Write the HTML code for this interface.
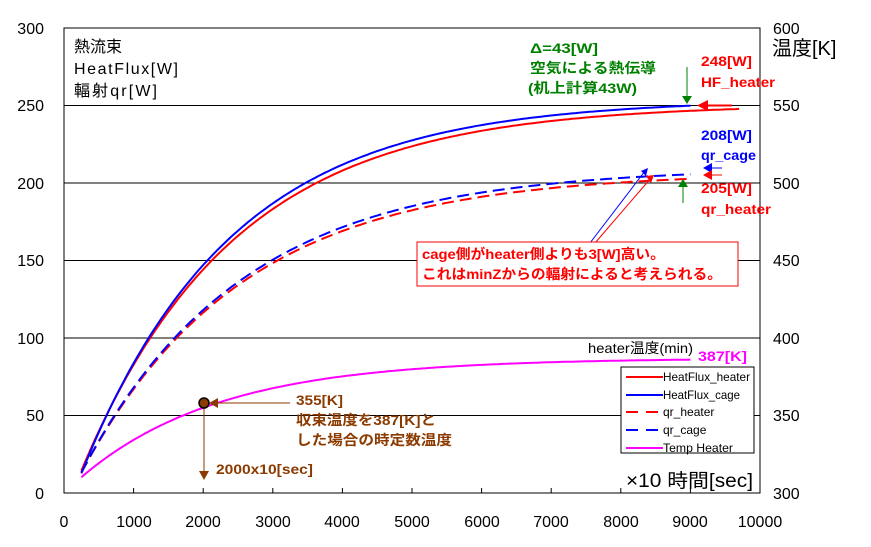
<!DOCTYPE html>
<html><head><meta charset="utf-8"><style>
body{margin:0;background:#fff;width:871px;height:547px;overflow:hidden}
svg{display:block;font-family:"Liberation Sans","Noto Sans CJK JP",sans-serif}
</style></head><body>
<svg id="s" width="871" height="547" xmlns="http://www.w3.org/2000/svg">
<rect x="64" y="28" width="696" height="465" fill="#fff" stroke="#000" stroke-width="1"/>
<g stroke="#000" stroke-width="1">
<line x1="64" y1="105.5" x2="760" y2="105.5"/>
<line x1="64" y1="183" x2="760" y2="183"/>
<line x1="64" y1="260.5" x2="760" y2="260.5"/>
<line x1="64" y1="338" x2="760" y2="338"/>
<line x1="64" y1="415.5" x2="760" y2="415.5"/>
</g>
<g id="ticks" stroke="#000"></g>
<g font-size="16" fill="#000" text-anchor="end">
<text x="44" y="34">300</text><text x="44" y="111">250</text><text x="44" y="189">200</text>
<text x="44" y="266">150</text><text x="44" y="344">100</text><text x="44" y="421">50</text><text x="44" y="499">0</text>
</g>
<g font-size="16" fill="#000">
<text x="773" y="34">600</text><text x="773" y="111">550</text><text x="773" y="189">500</text>
<text x="773" y="266">450</text><text x="773" y="344">400</text><text x="773" y="421">350</text><text x="773" y="499">300</text>
</g>
<g font-size="16" fill="#000" text-anchor="middle">
<text x="64" y="527">0</text><text x="134" y="527">1000</text><text x="203" y="527">2000</text><text x="273" y="527">3000</text>
<text x="342" y="527">4000</text><text x="412" y="527">5000</text><text x="482" y="527">6000</text><text x="551" y="527">7000</text>
<text x="621" y="527">8000</text><text x="690" y="527">9000</text><text x="760" y="527">10000</text>
</g>
<rect x="768" y="36" width="70" height="24" fill="#fff"/>
<text x="772" y="55" font-size="20">温度[K]</text>
<g font-size="16" fill="#000" lengthAdjust="spacingAndGlyphs">
<text x="74" y="52" textLength="48">熱流束</text><text x="74" y="74" textLength="104">HeatFlux[W]</text><text x="74" y="96" textLength="83">輻射qr[W]</text>
</g>
<g id="curves" fill="none" stroke-width="2"></g>
<g font-size="14" font-weight="bold" fill="#008000">
<text x="530" y="53" textLength="68" lengthAdjust="spacingAndGlyphs">Δ=43[W]</text>
<text x="530" y="73" textLength="126" lengthAdjust="spacingAndGlyphs">空気による熱伝導</text>
<text x="528" y="93" textLength="109" lengthAdjust="spacingAndGlyphs">(机上計算43W)</text>
</g>
<g font-size="14" font-weight="bold" fill="#f00">
<text x="701" y="66" textLength="51" lengthAdjust="spacingAndGlyphs">248[W]</text><text x="701" y="87" textLength="74" lengthAdjust="spacingAndGlyphs">HF_heater</text>
<text x="701" y="193" textLength="51" lengthAdjust="spacingAndGlyphs">205[W]</text><text x="701" y="214" textLength="70" lengthAdjust="spacingAndGlyphs">qr_heater</text>
</g>
<g font-size="14" font-weight="bold" fill="#00f">
<text x="701" y="140" textLength="51" lengthAdjust="spacingAndGlyphs">208[W]</text><text x="701" y="160" textLength="55" lengthAdjust="spacingAndGlyphs">qr_cage</text>
</g>
<g stroke-width="1">
<line x1="687" y1="67" x2="687" y2="97" stroke="#008000"/><polygon points="682,96 692,96 687,104" fill="#008000"/>
<line x1="683" y1="203" x2="683" y2="186" stroke="#008000"/><polygon points="678,187 688,187 683,179" fill="#008000"/>
<line x1="706" y1="105.5" x2="732" y2="105.5" stroke="#f00" stroke-width="2"/><polygon points="708,100 708,111 697,105.5" fill="#f00"/>
<line x1="710" y1="168" x2="722" y2="168" stroke="#00f"/><polygon points="712,163 712,173 703,168" fill="#00f"/>
<line x1="710" y1="175" x2="722" y2="175" stroke="#f00"/><polygon points="712,170 712,180 703,175" fill="#f00"/>
<line x1="590" y1="243" x2="645" y2="171" stroke="#00f"/><polygon points="641,171 648,168 646,176" fill="#00f"/>
<line x1="595" y1="243" x2="651" y2="178" stroke="#f00"/><polygon points="646,176 654,175 651,183" fill="#f00"/>
</g>
<rect x="417" y="242" width="321" height="44" fill="#fff" stroke="#f00"/>
<g font-size="14" font-weight="bold" fill="#f00">
<text x="422" y="259" textLength="243" lengthAdjust="spacingAndGlyphs">cage側がheater側よりも3[W]高い。</text>
<text x="422" y="279" textLength="300" lengthAdjust="spacingAndGlyphs">これはminZからの輻射によると考えられる。</text>
</g>
<text x="588" y="353" font-size="14" textLength="105" lengthAdjust="spacingAndGlyphs">heater温度(min)</text>
<text x="698" y="361" font-size="14" font-weight="bold" fill="#f0f" textLength="49" lengthAdjust="spacingAndGlyphs">387[K]</text>
<rect x="621" y="367" width="133" height="86" fill="#fff" stroke="#000"/>
<g stroke-width="2">
<line x1="626" y1="377" x2="663" y2="377" stroke="#f00"/>
<line x1="626" y1="395" x2="663" y2="395" stroke="#00f"/>
<line x1="626" y1="412" x2="663" y2="412" stroke="#f00" stroke-dasharray="12,8"/>
<line x1="626" y1="430" x2="663" y2="430" stroke="#00f" stroke-dasharray="12,8"/>
<line x1="626" y1="448" x2="663" y2="448" stroke="#f0f"/>
</g>
<g font-size="12" fill="#000">
<text x="663" y="381" textLength="87" lengthAdjust="spacingAndGlyphs">HeatFlux_heater</text><text x="663" y="399" textLength="77" lengthAdjust="spacingAndGlyphs">HeatFlux_cage</text>
<text x="663" y="416">qr_heater</text><text x="663" y="434">qr_cage</text><text x="663" y="452" textLength="70" lengthAdjust="spacingAndGlyphs">Temp Heater</text>
</g>
<text x="626" y="487" font-size="19" textLength="127" lengthAdjust="spacingAndGlyphs">×10 時間[sec]</text>
<line x1="204" y1="403" x2="204" y2="472" stroke="#8b3a00"/><polygon points="199,471 209,471 204,480" fill="#8b3a00"/>
<line x1="210" y1="403" x2="290" y2="403" stroke="#8b3a00"/><polygon points="218,398 218,408 209,403" fill="#8b3a00"/>
<circle cx="204" cy="403" r="5" fill="#8b3a00" stroke="#000" stroke-width="1.5"/>
<g font-size="14" font-weight="bold" fill="#8b3a00">
<text x="296" y="405" textLength="47" lengthAdjust="spacingAndGlyphs">355[K]</text>
<text x="296" y="425" textLength="140" lengthAdjust="spacingAndGlyphs">収束温度を387[K]と</text>
<text x="296" y="445" textLength="156" lengthAdjust="spacingAndGlyphs">した場合の時定数温度</text>
<text x="216" y="474" textLength="97" lengthAdjust="spacingAndGlyphs">2000x10[sec]</text>
</g>
<script>
var X=t=>64+t*0.0696, Y=v=>493-v*1.55;
var ns="http://www.w3.org/2000/svg";
function curve(A,tau,t0,t1,t2,col,dash,off){var d="";for(var t=t1;t<=t2;t+=50){var v=off+A*(1-Math.exp(-(t-t0)/tau));d+=(d?"L":"M")+X(t).toFixed(1)+","+Y(v).toFixed(1);}
var p=document.createElementNS(ns,"path");p.setAttribute("d",d);p.setAttribute("stroke",col);if(dash)p.setAttribute("stroke-dasharray","12,6");document.getElementById("curves").appendChild(p);}
curve(251,2200,120,250,9700,"#f00",0,0);
curve(254,2150,140,250,9000,"#00f",0,0);
curve(207,2300,100,250,9000,"#f00",1,0);
curve(210,2300,100,250,9000,"#00f",1,0);
curve(87,2000,0,250,9000,"#f0f",0,0);
var g=document.getElementById("ticks");
for(var i=0;i<=10;i++){var l=document.createElementNS(ns,"line");var x=X(i*1000);l.setAttribute("x1",x);l.setAttribute("x2",x);l.setAttribute("y1",493);l.setAttribute("y2",488);g.appendChild(l);}
</script>
</svg>
</body></html>
